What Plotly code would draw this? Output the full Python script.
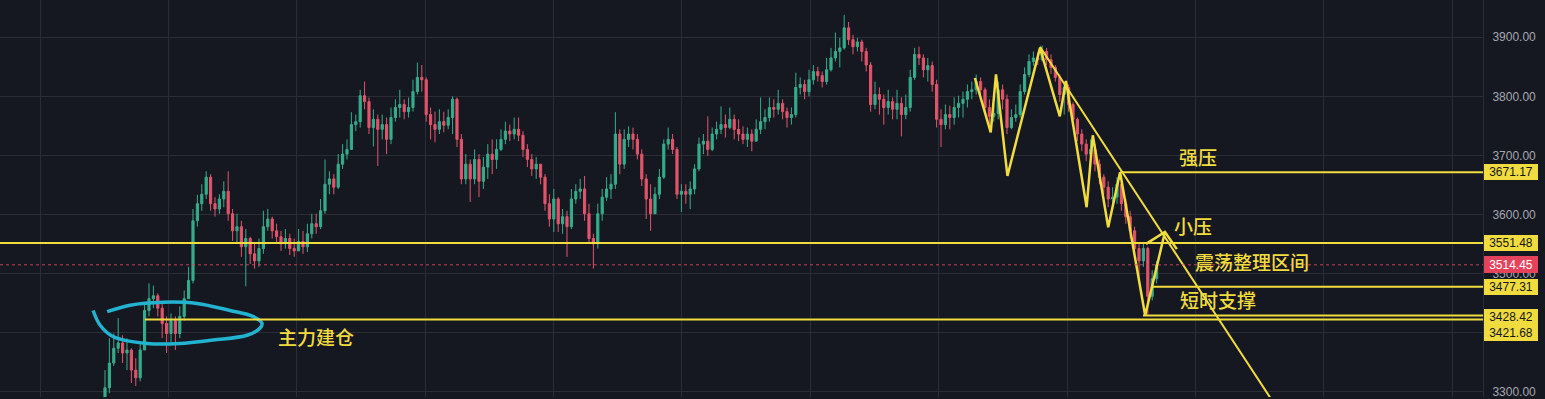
import plotly.graph_objects as go

# ---------------- data ----------------
first_open = 3275
close = [3306,3348,3373,3382,3365,3370,3336,3323,3370,3437,
 3457,3462,3441,3415,3398,3420,3398,3427,3457,3488,
 3589,3618,3634,3663,3618,3609,3626,3639,3601,3572,
 3579,3545,3559,3533,3521,3542,3579,3592,3572,3562,
 3550,3559,3542,3538,3554,3545,3567,3584,3579,3606,
 3651,3660,3646,3685,3702,3710,3752,3757,3801,3791,
 3747,3761,3744,3752,3727,3764,3781,3786,3774,3781,
 3808,3832,3828,3769,3752,3744,3757,3751,3764,3795,
 3727,3660,3685,3660,3693,3656,3680,3702,3693,3710,
 3727,3741,3736,3744,3734,3710,3693,3677,3685,3663,
 3618,3592,3626,3584,3596,3579,3626,3639,3643,3601,
 3559,3550,3601,3629,3643,3651,3736,3685,3727,3736,
 3727,3702,3660,3626,3601,3634,3663,3719,3727,3710,
 3634,3639,3634,3643,3677,3719,3724,3710,3736,3744,
 3752,3747,3761,3744,3736,3727,3736,3724,3744,3757,
 3764,3781,3778,3788,3774,3764,3769,3815,3820,3808,
 3828,3842,3835,3825,3845,3865,3876,3882,3916,3896,
 3884,3892,3876,3853,3786,3803,3795,3781,3791,3778,
 3788,3769,3781,3832,3871,3865,3845,3852,3820,3761,
 3752,3769,3764,3781,3788,3795,3808,3811,3825,3811,
 3781,3766,3771,3811,3795,3747,3764,3769,3808,3837,
 3859,3865,3862,3876,3862,3849,3832,3803,3815,3786,
 3761,3736,3719,3702,3710,3685,3663,3646,3626,3629,
 3651,3618,3596,3572,3542,3521,3542,3461,3491,3514.45]

high = [3336,3390,3398,3424,3395,3390,3373,3356,3382,3449,
 3483,3479,3466,3449,3427,3432,3427,3444,3471,3511,
 3609,3633,3651,3673,3668,3629,3634,3656,3673,3609,
 3601,3589,3575,3562,3550,3559,3606,3609,3596,3584,
 3572,3575,3567,3559,3575,3572,3584,3601,3601,3626,
 3693,3673,3668,3702,3719,3727,3773,3769,3811,3825,
 3798,3778,3769,3769,3764,3781,3795,3811,3795,3798,
 3828,3857,3853,3832,3781,3774,3778,3774,3778,3800,
 3798,3736,3702,3693,3710,3702,3697,3719,3727,3727,
 3744,3757,3752,3764,3764,3741,3719,3702,3697,3685,
 3668,3634,3643,3629,3609,3606,3643,3651,3660,3665,
 3618,3567,3618,3643,3663,3668,3773,3744,3744,3749,
 3747,3736,3710,3668,3651,3646,3677,3727,3747,3736,
 3714,3651,3651,3656,3685,3730,3736,3766,3747,3757,
 3783,3769,3781,3769,3761,3749,3747,3744,3761,3798,
 3778,3798,3795,3811,3795,3781,3781,3840,3832,3828,
 3845,3853,3850,3842,3865,3882,3908,3899,3938,3926,
 3904,3899,3896,3882,3858,3825,3815,3803,3811,3798,
 3811,3798,3803,3845,3882,3884,3871,3865,3859,3828,
 3778,3786,3784,3798,3801,3808,3820,3825,3837,3832,
 3815,3795,3786,3825,3820,3803,3778,3786,3820,3849,
 3871,3876,3874,3886,3882,3871,3853,3837,3825,3820,
 3790,3764,3744,3727,3727,3719,3693,3668,3656,3646,
 3663,3660,3626,3606,3579,3550,3550,3545,3505,3521]

low = [3272,3297,3343,3365,3348,3336,3314,3309,3317,3373,
 3427,3441,3427,3390,3365,3382,3370,3390,3420,3457,
 3483,3579,3606,3626,3606,3596,3601,3612,3589,3555,
 3550,3528,3478,3516,3508,3511,3533,3572,3559,3550,
 3538,3542,3531,3528,3538,3533,3536,3559,3567,3575,
 3601,3634,3634,3643,3677,3693,3710,3741,3747,3778,
 3736,3715,3682,3727,3702,3719,3757,3764,3761,3764,
 3774,3803,3808,3757,3727,3722,3736,3739,3744,3736,
 3714,3651,3651,3621,3651,3629,3643,3660,3668,3677,
 3707,3719,3724,3727,3724,3697,3680,3665,3660,3651,
 3606,3579,3570,3570,3567,3528,3575,3618,3626,3589,
 3550,3508,3542,3589,3623,3626,3643,3668,3677,3714,
 3710,3693,3648,3592,3572,3618,3626,3660,3710,3702,
 3626,3604,3618,3609,3634,3673,3702,3699,3707,3727,
 3736,3730,3744,3727,3724,3719,3714,3707,3727,3736,
 3744,3757,3764,3769,3761,3747,3752,3764,3803,3795,
 3800,3820,3825,3815,3820,3842,3859,3849,3879,3887,
 3871,3876,3859,3842,3774,3778,3769,3752,3769,3761,
 3761,3732,3761,3774,3828,3853,3832,3825,3808,3747,
 3714,3744,3744,3752,3764,3764,3781,3795,3803,3798,
 3769,3752,3757,3761,3778,3736,3744,3757,3764,3803,
 3832,3852,3853,3859,3853,3838,3825,3791,3769,3774,
 3752,3724,3707,3690,3680,3673,3651,3634,3612,3609,
 3618,3606,3584,3559,3528,3483,3511,3430,3454,3483]

# key levels drawn on the chart: (price, first candle index)
level_prices = [3671.17, 3551.48, 3477.31, 3428.42, 3421.68]
level_starts = [230.7, -30, 238.0, 235.9, 9.1]
last_price = 3514.45

# hand-drawn zigzag (candle index, price)
zigzag_idx = [197.7, 201.3, 202.5, 205.1, 212.5, 217.0, 218.4, 223.1, 224.5, 228.0, 230.7, 236.4, 240.9]
zigzag_price = [3831, 3739, 3837, 3665, 3882, 3766, 3826, 3612, 3734, 3578, 3671.17, 3428.42, 3570]
arrow_idx = [236.6, 240.9, 243.6]
arrow_price = [3550, 3570, 3541]
trend_idx = [212.5, 265.2]
trend_price = [3884, 3285]

# hand-drawn cyan loop (candle index, price)
loop_idx = [-2.7, -1.1, 1.8, 9.6, 17.0, 24.6, 32.3, 35.2, 35.7, 33.6, 28.4, 20.9, 13.2, 5.7, 0.5]
loop_price = [3437, 3412, 3393, 3381, 3381, 3387, 3395, 3407, 3415, 3427, 3437, 3449, 3451, 3446, 3435]

y_ticks = [3300, 3400, 3500, 3600, 3700, 3800, 3900]
y_tick_text = ['3300.00', '', '3500.00', '3600.00', '3700.00', '3800.00', '3900.00']

# ---------------- figure ----------------
n = len(close)
idx = list(range(n))
opens = [first_open] + close[:-1]
hi = [max(h, o, c) for h, o, c in zip(high, opens, close)]
lo = [min(l, o, c) for l, o, c in zip(low, opens, close)]

BG = '#161821'
GRID = '#2a2d38'
YEL = '#f0dc3e'
UP = '#35ad8b'
DOWN = '#e3546b'
X_RANGE = [-23.86, 313.18]
Y_RANGE = [3290.4, 3963.2]

fig = go.Figure()
fig.add_trace(go.Candlestick(
    x=idx, open=opens, high=hi, low=lo, close=close,
    increasing=dict(line=dict(color=UP, width=1), fillcolor=UP),
    decreasing=dict(line=dict(color=DOWN, width=1), fillcolor=DOWN),
    whiskerwidth=0, showlegend=False, hoverinfo='skip'))

shapes = []
for p, s in zip(level_prices, level_starts):
    shapes.append(dict(type='line', xref='x', yref='y', x0=s, x1=X_RANGE[1],
                       y0=p, y1=p, line=dict(color=YEL, width=2), layer='above'))
shapes.append(dict(type='line', xref='x', yref='y', x0=X_RANGE[0], x1=X_RANGE[1],
                   y0=last_price, y1=last_price,
                   line=dict(color='rgba(226,70,92,0.85)', width=1, dash='dot'), layer='above'))

fig.add_trace(go.Scatter(x=zigzag_idx, y=zigzag_price, mode='lines',
                         line=dict(color=YEL, width=2.5), showlegend=False, hoverinfo='skip'))
fig.add_trace(go.Scatter(x=arrow_idx, y=arrow_price, mode='lines',
                         line=dict(color=YEL, width=2.5), showlegend=False, hoverinfo='skip'))
fig.add_trace(go.Scatter(x=trend_idx, y=trend_price, mode='lines',
                         line=dict(color=YEL, width=2), showlegend=False, hoverinfo='skip'))
fig.add_trace(go.Scatter(x=loop_idx, y=loop_price, mode='lines',
                         line=dict(color='#22b3d0', width=3.5, shape='spline', smoothing=1.0),
                         showlegend=False, hoverinfo='skip'))

PLOT_W = 1483.0
H = 399.0
def pxx(x):
    return x / PLOT_W
def pyy(y):
    return 1 - y / H

annotations = []
cjk = dict(family='Noto Sans CJK SC', size=19, color=YEL, weight=500)
for txt, cx, cy in [('强压', 1198, 157), ('小压', 1193, 227), ('震荡整理区间', 1252, 263),
                    ('短时支撑', 1218, 301), ('主力建仓', 316, 338)]:
    annotations.append(dict(text=txt, xref='paper', yref='paper', x=pxx(cx), y=pyy(cy),
                            xanchor='center', yanchor='middle', showarrow=False, font=cjk))

# price labels on the scale
label_shift = [0, 0, 0, -1, -13]
for p, sh in zip(level_prices, label_shift):
    annotations.append(dict(text=f'{p:.2f}', xref='paper', yref='y', x=1, y=p, yshift=sh, xshift=1,
                            xanchor='left', yanchor='middle', showarrow=False,
                            bgcolor=YEL, borderwidth=0, borderpad=2, width=50, height=12,
                            font=dict(family='Liberation Sans', size=12, color='#15171f')))
annotations.append(dict(text=f'{last_price:.2f}', xref='paper', yref='y', x=1, y=last_price, xshift=1,
                        xanchor='left', yanchor='middle', showarrow=False,
                        bgcolor='#e5435b', borderwidth=0, borderpad=2, width=50, height=13,
                        font=dict(family='Liberation Sans', size=12, color='#ffffff')))

fig.update_layout(
    width=1545, height=399, autosize=False,
    margin=dict(l=0, r=62, t=0, b=0, pad=0),
    paper_bgcolor=BG, plot_bgcolor=BG,
    shapes=shapes, annotations=annotations,
    showlegend=False, hovermode=False,
    xaxis=dict(range=X_RANGE, showticklabels=False, showgrid=True, gridcolor=GRID, gridwidth=1,
               tick0=-14.77, dtick=29.18, zeroline=False, rangeslider=dict(visible=False),
               showline=False, ticks=''),
    yaxis=dict(range=Y_RANGE, side='right', tickvals=y_ticks,
               ticktext=y_tick_text, showgrid=True, gridcolor=GRID,
               zeroline=False, showline=True, linecolor=GRID, linewidth=1, ticks='',
               ticklabelstandoff=6, ticklabeloverflow='allow',
               tickfont=dict(family='Liberation Sans', size=12, color='#a4a7b0')),
)

fig.write_html('out.html', config={'displayModeBar': False},
               post_script="document.body.style.margin='0';document.body.style.overflow='hidden';")
